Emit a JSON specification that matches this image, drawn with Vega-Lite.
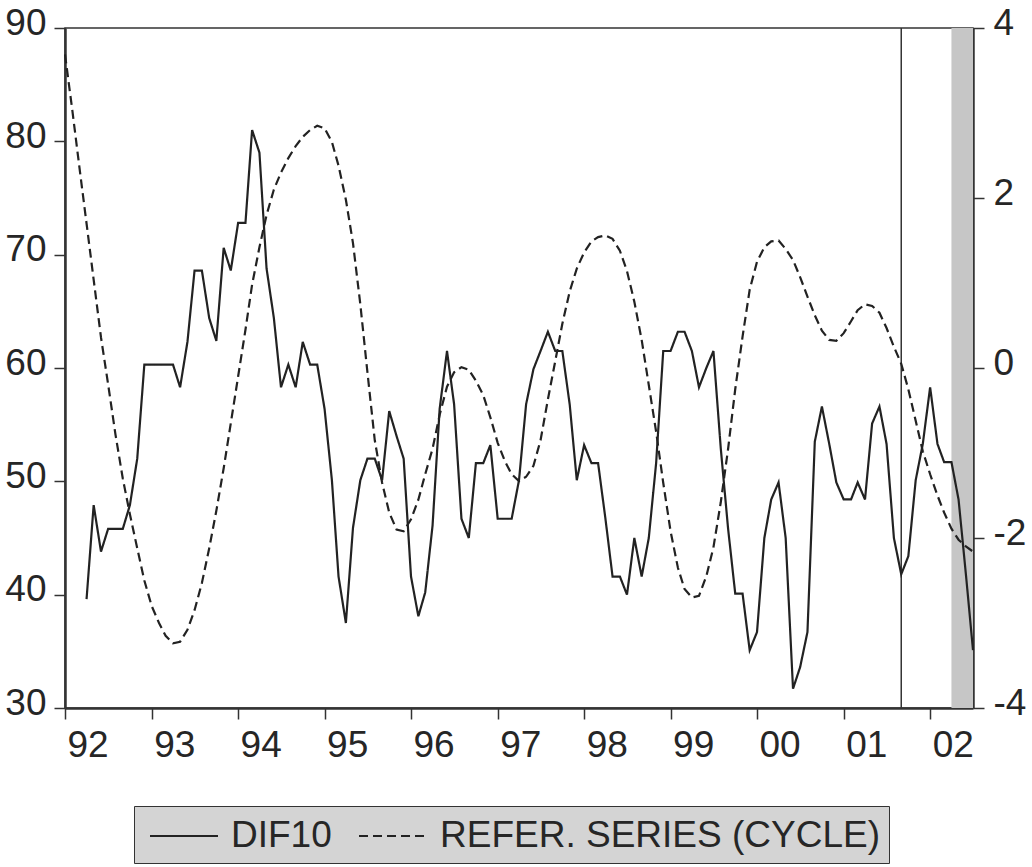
{
  "$schema": "https://vega.github.io/schema/vega-lite/v6.json",
  "width": 908,
  "height": 680,
  "autosize": {"type": "none"},
  "padding": {"left": 65, "top": 28, "right": 59, "bottom": 159},
  "background": "white",
  "config": {
    "view": {"stroke": "#333333", "strokeWidth": 1.5},
    "font": "Liberation Sans",
    "axis": {
      "labelFont": "Liberation Sans",
      "labelFontSize": 37,
      "labelColor": "#262626",
      "domainColor": "#333333",
      "domainWidth": 2.5,
      "tickColor": "#333333",
      "tickWidth": 1.5,
      "tickSize": 11,
      "grid": false,
      "title": null
    }
  },
  "datasets": {
    "series": [
      {"date": "1992-01-01", "dif10": null, "cycle": 3.69},
      {"date": "1992-02-01", "dif10": null, "cycle": 3.03},
      {"date": "1992-03-01", "dif10": null, "cycle": 2.38},
      {"date": "1992-04-01", "dif10": 39.6, "cycle": 1.70},
      {"date": "1992-05-01", "dif10": 47.9, "cycle": 1.04},
      {"date": "1992-06-01", "dif10": 43.8, "cycle": 0.36},
      {"date": "1992-07-01", "dif10": 45.8, "cycle": -0.19},
      {"date": "1992-08-01", "dif10": 45.8, "cycle": -0.78},
      {"date": "1992-09-01", "dif10": 45.8, "cycle": -1.30},
      {"date": "1992-10-01", "dif10": 47.9, "cycle": -1.72},
      {"date": "1992-11-01", "dif10": 52.0, "cycle": -2.12},
      {"date": "1992-12-01", "dif10": 60.3, "cycle": -2.50},
      {"date": "1993-01-01", "dif10": 60.3, "cycle": -2.80},
      {"date": "1993-02-01", "dif10": 60.3, "cycle": -3.00},
      {"date": "1993-03-01", "dif10": 60.3, "cycle": -3.15},
      {"date": "1993-04-01", "dif10": 60.3, "cycle": -3.24},
      {"date": "1993-05-01", "dif10": 58.3, "cycle": -3.22},
      {"date": "1993-06-01", "dif10": 62.3, "cycle": -3.08},
      {"date": "1993-07-01", "dif10": 68.6, "cycle": -2.85},
      {"date": "1993-08-01", "dif10": 68.6, "cycle": -2.53},
      {"date": "1993-09-01", "dif10": 64.4, "cycle": -2.12},
      {"date": "1993-10-01", "dif10": 62.4, "cycle": -1.68},
      {"date": "1993-11-01", "dif10": 70.6, "cycle": -1.18},
      {"date": "1993-12-01", "dif10": 68.6, "cycle": -0.65},
      {"date": "1994-01-01", "dif10": 72.8, "cycle": -0.10},
      {"date": "1994-02-01", "dif10": 72.8, "cycle": 0.45},
      {"date": "1994-03-01", "dif10": 81.0, "cycle": 0.98},
      {"date": "1994-04-01", "dif10": 79.0, "cycle": 1.42},
      {"date": "1994-05-01", "dif10": 68.8, "cycle": 1.80},
      {"date": "1994-06-01", "dif10": 64.4, "cycle": 2.10},
      {"date": "1994-07-01", "dif10": 58.3, "cycle": 2.30},
      {"date": "1994-08-01", "dif10": 60.3, "cycle": 2.47},
      {"date": "1994-09-01", "dif10": 58.3, "cycle": 2.61},
      {"date": "1994-10-01", "dif10": 62.3, "cycle": 2.72},
      {"date": "1994-11-01", "dif10": 60.3, "cycle": 2.80},
      {"date": "1994-12-01", "dif10": 60.3, "cycle": 2.85},
      {"date": "1995-01-01", "dif10": 56.4, "cycle": 2.82},
      {"date": "1995-02-01", "dif10": 50.1, "cycle": 2.66},
      {"date": "1995-03-01", "dif10": 41.6, "cycle": 2.38},
      {"date": "1995-04-01", "dif10": 37.5, "cycle": 1.98},
      {"date": "1995-05-01", "dif10": 45.9, "cycle": 1.47},
      {"date": "1995-06-01", "dif10": 50.1, "cycle": 0.75},
      {"date": "1995-07-01", "dif10": 52.0, "cycle": -0.05},
      {"date": "1995-08-01", "dif10": 52.0, "cycle": -0.85},
      {"date": "1995-09-01", "dif10": 50.1, "cycle": -1.35},
      {"date": "1995-10-01", "dif10": 56.2, "cycle": -1.70},
      {"date": "1995-11-01", "dif10": 54.0, "cycle": -1.90},
      {"date": "1995-12-01", "dif10": 52.0, "cycle": -1.92},
      {"date": "1996-01-01", "dif10": 41.6, "cycle": -1.78},
      {"date": "1996-02-01", "dif10": 38.1, "cycle": -1.55},
      {"date": "1996-03-01", "dif10": 40.2, "cycle": -1.25},
      {"date": "1996-04-01", "dif10": 46.1, "cycle": -0.95},
      {"date": "1996-05-01", "dif10": 56.4, "cycle": -0.55},
      {"date": "1996-06-01", "dif10": 61.5, "cycle": -0.22},
      {"date": "1996-07-01", "dif10": 56.8, "cycle": -0.05},
      {"date": "1996-08-01", "dif10": 46.7, "cycle": 0.01},
      {"date": "1996-09-01", "dif10": 45.0, "cycle": -0.02},
      {"date": "1996-10-01", "dif10": 51.6, "cycle": -0.15},
      {"date": "1996-11-01", "dif10": 51.6, "cycle": -0.32},
      {"date": "1996-12-01", "dif10": 53.2, "cycle": -0.58},
      {"date": "1997-01-01", "dif10": 46.7, "cycle": -0.88},
      {"date": "1997-02-01", "dif10": 46.7, "cycle": -1.10},
      {"date": "1997-03-01", "dif10": 46.7, "cycle": -1.25},
      {"date": "1997-04-01", "dif10": 50.1, "cycle": -1.33},
      {"date": "1997-05-01", "dif10": 56.8, "cycle": -1.28},
      {"date": "1997-06-01", "dif10": 59.9, "cycle": -1.15},
      {"date": "1997-07-01", "dif10": 61.5, "cycle": -0.85},
      {"date": "1997-08-01", "dif10": 63.2, "cycle": -0.37},
      {"date": "1997-09-01", "dif10": 61.5, "cycle": 0.08},
      {"date": "1997-10-01", "dif10": 61.5, "cycle": 0.52},
      {"date": "1997-11-01", "dif10": 56.8, "cycle": 0.90},
      {"date": "1997-12-01", "dif10": 50.1, "cycle": 1.17},
      {"date": "1998-01-01", "dif10": 53.2, "cycle": 1.36},
      {"date": "1998-02-01", "dif10": 51.6, "cycle": 1.49},
      {"date": "1998-03-01", "dif10": 51.6, "cycle": 1.54},
      {"date": "1998-04-01", "dif10": 46.7, "cycle": 1.56},
      {"date": "1998-05-01", "dif10": 41.6, "cycle": 1.52},
      {"date": "1998-06-01", "dif10": 41.6, "cycle": 1.38},
      {"date": "1998-07-01", "dif10": 40.0, "cycle": 1.14},
      {"date": "1998-08-01", "dif10": 45.0, "cycle": 0.78},
      {"date": "1998-09-01", "dif10": 41.6, "cycle": 0.33},
      {"date": "1998-10-01", "dif10": 45.0, "cycle": -0.20},
      {"date": "1998-11-01", "dif10": 51.6, "cycle": -0.75},
      {"date": "1998-12-01", "dif10": 61.5, "cycle": -1.35},
      {"date": "1999-01-01", "dif10": 61.5, "cycle": -1.92},
      {"date": "1999-02-01", "dif10": 63.2, "cycle": -2.35},
      {"date": "1999-03-01", "dif10": 63.2, "cycle": -2.60},
      {"date": "1999-04-01", "dif10": 61.5, "cycle": -2.70},
      {"date": "1999-05-01", "dif10": 58.3, "cycle": -2.68},
      {"date": "1999-06-01", "dif10": 60.0, "cycle": -2.45},
      {"date": "1999-07-01", "dif10": 61.5, "cycle": -2.11},
      {"date": "1999-08-01", "dif10": 52.9, "cycle": -1.58},
      {"date": "1999-09-01", "dif10": 45.8, "cycle": -0.95},
      {"date": "1999-10-01", "dif10": 40.1, "cycle": -0.25},
      {"date": "1999-11-01", "dif10": 40.1, "cycle": 0.37},
      {"date": "1999-12-01", "dif10": 35.1, "cycle": 0.92},
      {"date": "2000-01-01", "dif10": 36.7, "cycle": 1.25},
      {"date": "2000-02-01", "dif10": 45.0, "cycle": 1.42},
      {"date": "2000-03-01", "dif10": 48.4, "cycle": 1.49},
      {"date": "2000-04-01", "dif10": 49.9, "cycle": 1.50},
      {"date": "2000-05-01", "dif10": 45.0, "cycle": 1.40},
      {"date": "2000-06-01", "dif10": 31.7, "cycle": 1.27},
      {"date": "2000-07-01", "dif10": 33.6, "cycle": 1.07},
      {"date": "2000-08-01", "dif10": 36.7, "cycle": 0.84},
      {"date": "2000-09-01", "dif10": 53.5, "cycle": 0.62},
      {"date": "2000-10-01", "dif10": 56.6, "cycle": 0.44},
      {"date": "2000-11-01", "dif10": 53.3, "cycle": 0.33},
      {"date": "2000-12-01", "dif10": 49.9, "cycle": 0.32},
      {"date": "2001-01-01", "dif10": 48.4, "cycle": 0.41},
      {"date": "2001-02-01", "dif10": 48.4, "cycle": 0.55},
      {"date": "2001-03-01", "dif10": 49.9, "cycle": 0.68},
      {"date": "2001-04-01", "dif10": 48.4, "cycle": 0.75},
      {"date": "2001-05-01", "dif10": 55.1, "cycle": 0.73},
      {"date": "2001-06-01", "dif10": 56.6, "cycle": 0.65},
      {"date": "2001-07-01", "dif10": 53.3, "cycle": 0.47},
      {"date": "2001-08-01", "dif10": 45.0, "cycle": 0.25},
      {"date": "2001-09-01", "dif10": 41.8, "cycle": 0.05},
      {"date": "2001-10-01", "dif10": 43.4, "cycle": -0.25},
      {"date": "2001-11-01", "dif10": 50.1, "cycle": -0.62},
      {"date": "2001-12-01", "dif10": 53.3, "cycle": -0.98},
      {"date": "2002-01-01", "dif10": 58.3, "cycle": -1.25},
      {"date": "2002-02-01", "dif10": 53.3, "cycle": -1.50},
      {"date": "2002-03-01", "dif10": 51.7, "cycle": -1.70},
      {"date": "2002-04-01", "dif10": 51.7, "cycle": -1.89},
      {"date": "2002-05-01", "dif10": 48.4, "cycle": -2.02},
      {"date": "2002-06-01", "dif10": 41.8, "cycle": -2.10},
      {"date": "2002-07-01", "dif10": 35.1, "cycle": -2.16}
    ],
    "band": [{"start": "2002-04-01", "end": "2002-07-01"}],
    "marker": [{"date": "2001-09-01"}]
  },
  "layer": [
    {
      "data": {"name": "band"},
      "mark": {"type": "rect", "color": "#c6c6c6"},
      "encoding": {
        "x": {"field": "start", "type": "temporal", "scale": {"type": "utc", "domain": [{"year": 1992, "month": 1, "date": 1, "utc": true}, {"year": 2002, "month": 7, "date": 1, "utc": true}]},
          "axis": {"format": "%y", "labelAlign": "left", "labelOffset": 2, "labelFlush": false, "labelOverlap": false, "labelPadding": 8,
            "values": [{"year": 1992, "month": 1, "date": 1, "utc": true}, {"year": 1993, "month": 1, "date": 1, "utc": true}, {"year": 1994, "month": 1, "date": 1, "utc": true}, {"year": 1995, "month": 1, "date": 1, "utc": true}, {"year": 1996, "month": 1, "date": 1, "utc": true}, {"year": 1997, "month": 1, "date": 1, "utc": true}, {"year": 1998, "month": 1, "date": 1, "utc": true}, {"year": 1999, "month": 1, "date": 1, "utc": true}, {"year": 2000, "month": 1, "date": 1, "utc": true}, {"year": 2001, "month": 1, "date": 1, "utc": true}, {"year": 2002, "month": 1, "date": 1, "utc": true}]}},
        "x2": {"field": "end"}
      }
    },
    {
      "data": {"name": "marker"},
      "mark": {"type": "rule", "color": "#333333", "strokeWidth": 1.5},
      "encoding": {
        "x": {"field": "date", "type": "temporal", "scale": {"type": "utc", "domain": [{"year": 1992, "month": 1, "date": 1, "utc": true}, {"year": 2002, "month": 7, "date": 1, "utc": true}]},
          "axis": {"format": "%y", "labelAlign": "left", "labelOffset": 2, "labelFlush": false, "labelOverlap": false, "labelPadding": 8,
            "values": [{"year": 1992, "month": 1, "date": 1, "utc": true}, {"year": 1993, "month": 1, "date": 1, "utc": true}, {"year": 1994, "month": 1, "date": 1, "utc": true}, {"year": 1995, "month": 1, "date": 1, "utc": true}, {"year": 1996, "month": 1, "date": 1, "utc": true}, {"year": 1997, "month": 1, "date": 1, "utc": true}, {"year": 1998, "month": 1, "date": 1, "utc": true}, {"year": 1999, "month": 1, "date": 1, "utc": true}, {"year": 2000, "month": 1, "date": 1, "utc": true}, {"year": 2001, "month": 1, "date": 1, "utc": true}, {"year": 2002, "month": 1, "date": 1, "utc": true}]}}
      }
    },
    {
      "data": {"name": "series"},
      "mark": {"type": "line", "color": "#222222", "strokeWidth": 2.2},
      "encoding": {
        "x": {"field": "date", "type": "temporal", "scale": {"type": "utc", "domain": [{"year": 1992, "month": 1, "date": 1, "utc": true}, {"year": 2002, "month": 7, "date": 1, "utc": true}]},
          "axis": {"format": "%y", "labelAlign": "left", "labelOffset": 2, "labelFlush": false, "labelOverlap": false, "labelPadding": 8,
            "values": [{"year": 1992, "month": 1, "date": 1, "utc": true}, {"year": 1993, "month": 1, "date": 1, "utc": true}, {"year": 1994, "month": 1, "date": 1, "utc": true}, {"year": 1995, "month": 1, "date": 1, "utc": true}, {"year": 1996, "month": 1, "date": 1, "utc": true}, {"year": 1997, "month": 1, "date": 1, "utc": true}, {"year": 1998, "month": 1, "date": 1, "utc": true}, {"year": 1999, "month": 1, "date": 1, "utc": true}, {"year": 2000, "month": 1, "date": 1, "utc": true}, {"year": 2001, "month": 1, "date": 1, "utc": true}, {"year": 2002, "month": 1, "date": 1, "utc": true}]}},
        "y": {
          "field": "dif10", "type": "quantitative",
          "scale": {"domain": [30, 90], "nice": false, "zero": false},
          "axis": {"orient": "left", "values": [30, 40, 50, 60, 70, 80, 90], "labelPadding": 8, "labelBaseline": "alphabetic", "labelOffset": 6}
        },
        "strokeDash": {
          "datum": "DIF10", "type": "nominal",
          "scale": {"domain": ["DIF10", "REFER. SERIES (CYCLE)"], "range": [[1, 0], [9, 5]]},
          "legend": {
            "orient": "none",
            "legendX": 69,
            "legendY": 778,
            "direction": "horizontal",
            "title": null,
            "fillColor": "#d4d4d4",
            "strokeColor": "#333333",
            "padding": 9,
            "symbolType": "M-1.7,0H1.7",
            "symbolSize": 1600,
            "symbolStrokeWidth": 2,
            "symbolStrokeColor": "#222222",
            "symbolFillColor": "transparent",
            "symbolOffset": 20,
            "labelFont": "Liberation Sans",
            "labelFontSize": 37,
            "labelColor": "#262626",
            "labelOffset": 26,
            "columnPadding": 20,
            "labelLimit": 600
          }
        }
      }
    },
    {
      "data": {"name": "series"},
      "mark": {"type": "line", "color": "#222222", "strokeWidth": 2.2},
      "encoding": {
        "x": {"field": "date", "type": "temporal", "scale": {"type": "utc", "domain": [{"year": 1992, "month": 1, "date": 1, "utc": true}, {"year": 2002, "month": 7, "date": 1, "utc": true}]},
          "axis": {"format": "%y", "labelAlign": "left", "labelOffset": 2, "labelFlush": false, "labelOverlap": false, "labelPadding": 8,
            "values": [{"year": 1992, "month": 1, "date": 1, "utc": true}, {"year": 1993, "month": 1, "date": 1, "utc": true}, {"year": 1994, "month": 1, "date": 1, "utc": true}, {"year": 1995, "month": 1, "date": 1, "utc": true}, {"year": 1996, "month": 1, "date": 1, "utc": true}, {"year": 1997, "month": 1, "date": 1, "utc": true}, {"year": 1998, "month": 1, "date": 1, "utc": true}, {"year": 1999, "month": 1, "date": 1, "utc": true}, {"year": 2000, "month": 1, "date": 1, "utc": true}, {"year": 2001, "month": 1, "date": 1, "utc": true}, {"year": 2002, "month": 1, "date": 1, "utc": true}]}},
        "y": {
          "field": "cycle", "type": "quantitative",
          "scale": {"domain": [-4, 4], "nice": false, "zero": false},
          "axis": {"orient": "right", "values": [-4, -2, 0, 2, 4], "labelPadding": 9, "labelBaseline": "alphabetic", "labelOffset": 6, "labelExpr": "datum.value < 0 ? '-' + abs(datum.value) : '' + datum.value"}
        },
        "strokeDash": {"datum": "REFER. SERIES (CYCLE)", "type": "nominal"}
      }
    }
  ],
  "resolve": {"scale": {"y": "independent"}, "axis": {"y": "independent"}}
}
